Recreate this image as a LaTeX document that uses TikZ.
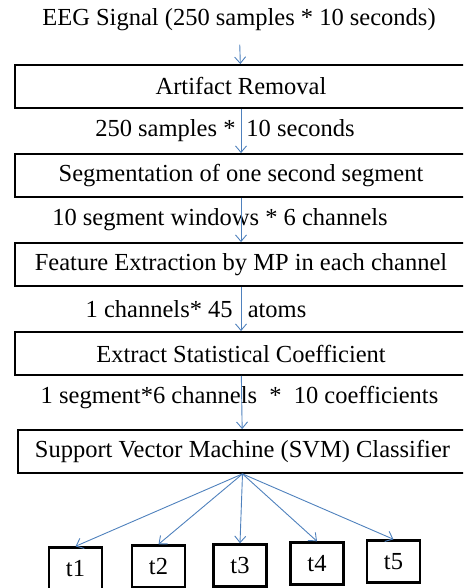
\documentclass[tikz,border=0pt]{standalone}
\usepackage{xcolor}
\usepackage{fontspec}
\setmainfont{Liberation Serif}
\usepackage{tikz}
\usetikzlibrary{shapes.geometric, arrows.meta}
\definecolor{arrowblue}{RGB}{79,129,189}
\tikzstyle{stage} = [rectangle, minimum width=452pt, minimum height=43pt, align=center, draw=black, line width=1.8pt, font=\fontsize{24.5}{29}\selectfont]
\tikzstyle{flowtext} = [align=center, font=\fontsize{24.5}{29}\selectfont]
\tikzstyle{classbox} = [rectangle, minimum width=53pt, minimum height=42pt, align=center, draw=black, line width=2.4pt, font=\fontsize{24.5}{29}\selectfont]
\tikzstyle{arrow} = [draw=arrowblue, line width=0.9pt, -{Straight Barb[length=6.5pt,width=11pt]}]

\begin{document}
\begin{tikzpicture}[x=1pt, y=1pt, node distance=89pt]
\path[use as bounding box, clip] (0,0) rectangle (463,588);
\node (artifact) [stage] at (241,501.5) {Artifact Removal};
\node (eeg) [flowtext, node distance=66.5pt, above of=artifact, xshift=-2pt] {EEG Signal (250 samples * 10 seconds)};
\node (segment) [stage, below of=artifact] {Segmentation of one second segment};
\node (feature) [stage, below of=segment] {Feature Extraction by MP in each channel};
\node (coeff) [stage, below of=feature] {Extract Statistical Coefficient};
\node (svm) [stage, minimum width=449pt, node distance=98pt, below of=coeff, xshift=1.5pt] {Support Vector Machine (SVM) Classifier};

\node (samples) [flowtext, node distance=44.5pt, below of=artifact, xshift=-16pt] {250 samples *\hspace{11pt}10 seconds};
\node (windows) [flowtext, node distance=44.5pt, below of=segment, xshift=-21pt] {10 segment windows * 6 channels};
\node (atoms) [flowtext, node distance=44.5pt, below of=feature, xshift=-45pt] {1 channels* 45\hspace{9pt} atoms};
\node (coeffs) [flowtext, node distance=44.5pt, below of=coeff, xshift=-1.5pt] {1 segment*6 channels~~*~~10 coefficients};

\node (t3) [classbox, node distance=114pt, below of=svm, xshift=-2.5pt] {t3};
\node (t2) [classbox, node distance=81.5pt, left of=t3, yshift=-1pt] {t2};
\node (t1) [classbox, node distance=83pt, left of=t2, yshift=-2pt] {t1};
\node (t4) [classbox, node distance=77pt, right of=t3, yshift=2pt] {t4};
\node (t5) [classbox, node distance=76.5pt, right of=t4, yshift=2pt] {t5};

\draw[arrow, shorten <=10pt] (eeg) -- (artifact);
\draw[arrow] (artifact) -- (segment);
\draw[arrow] (segment) -- (feature);
\draw[arrow] (feature) -- (coeff);
\draw[arrow] (coeff) -- (svm);

\draw[arrow] (svm.south) -- (t1.north);
\draw[arrow] (svm.south) -- (t2.north);
\draw[arrow] (svm.south) -- (t3.north);
\draw[arrow] (svm.south) -- (t4.north);
\draw[arrow] (svm.south) -- (t5.north);
\end{tikzpicture}
\end{document}
